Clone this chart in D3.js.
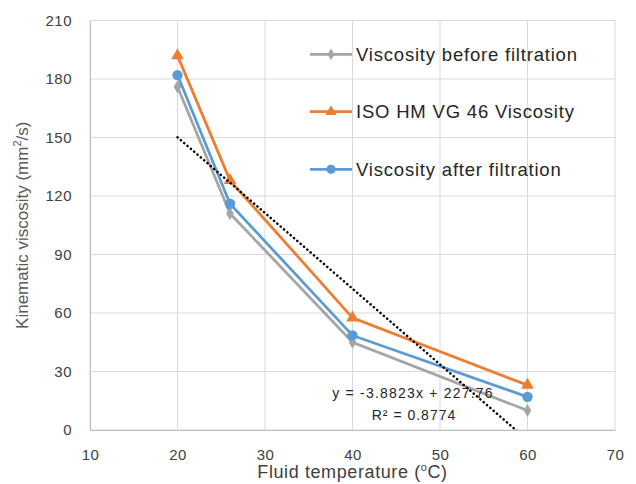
<!DOCTYPE html>
<html>
<head>
<meta charset="utf-8">
<script src="https://cdn.jsdelivr.net/npm/d3@7"></script>
<style>
  body { margin: 0; background: #fff; }
  text { font-family: "Liberation Sans", Arial, sans-serif; }
</style>
</head>
<body>
<div id="chart"></div>
<script>
// datos
const temperatures = [20, 26, 40, 60];
const viscosityBefore = [176, 111, 45, 10];
const isoViscosity = [192, 128, 57.5, 23];
const viscosityAfter = [182, 116, 48.5, 17];
const xTicks = [10, 20, 30, 40, 50, 60, 70];
const yTicks = [0, 30, 60, 90, 120, 150, 180, 210];
const trendSlope = -3.8823;
const trendIntercept = 227.76;
const trendR2 = 0.8774;
const trendRange = [20, 60];
const seriesNames = ["Viscosity before filtration", "ISO HM VG 46 Viscosity", "Viscosity after filtration"];

const width = 636;
const height = 484;
const margin = { top: 20.5, right: 21, bottom: 54, left: 90 };

const svg = d3.select("#chart").append("svg")
    .attr("width", width)
    .attr("height", height);

const x = d3.scaleLinear().domain([10, 70]).range([margin.left, width - margin.right]);
const y = d3.scaleLinear().domain([0, 210]).range([height - margin.bottom, margin.top]);

// rejilla
const grid = svg.append("g").attr("id", "grid");
grid.selectAll("line.h").data(yTicks).enter().append("line")
    .attr("x1", x(10)).attr("x2", x(70))
    .attr("y1", d => y(d)).attr("y2", d => y(d))
    .attr("stroke", "#d9d9d9").attr("stroke-width", 1);
grid.selectAll("line.v").data(xTicks).enter().append("line")
    .attr("y1", y(0)).attr("y2", y(210))
    .attr("x1", d => x(d)).attr("x2", d => x(d))
    .attr("stroke", "#d9d9d9").attr("stroke-width", 1);

// ejes
const xAxis = d3.axisBottom(x).tickValues(xTicks).tickSize(0).tickPadding(19);
const yAxis = d3.axisLeft(y).tickValues(yTicks).tickSize(0).tickPadding(18);
const xAxisGroup = svg.append("g").attr("transform", `translate(0, ${y(0)})`).call(xAxis);
const yAxisGroup = svg.append("g").attr("transform", `translate(${x(10)}, 0)`).call(yAxis);
[xAxisGroup, yAxisGroup].forEach(g => {
    g.select(".domain").attr("stroke", "#bfbfbf");
    g.selectAll("text").attr("font-size", 15).attr("fill", "#404040")
        .attr("letter-spacing", 0.5)
        .attr("font-family", "'Liberation Sans', Arial, sans-serif");
});

// titulos
const xTitle = svg.append("text")
    .attr("x", (x(10) + x(70)) / 2).attr("y", 478)
    .attr("text-anchor", "middle").attr("font-size", 18)
    .attr("letter-spacing", 0.6).attr("fill", "#404040");
xTitle.append("tspan").text("Fluid temperature (");
xTitle.append("tspan").attr("font-size", 11).attr("dy", -7).text("o");
xTitle.append("tspan").attr("dy", 7).text("C)");

const yTitle = svg.append("text")
    .attr("transform", `translate(28, ${(y(0) + y(210)) / 2}) rotate(-90)`)
    .attr("text-anchor", "middle").attr("font-size", 17).attr("fill", "#595959");
yTitle.append("tspan").text("Kinematic viscosity (mm");
yTitle.append("tspan").attr("font-size", 11).attr("dy", -7).text("2");
yTitle.append("tspan").attr("dy", 7).text("/s)");

// series
const series = [
    { name: seriesNames[0], values: viscosityBefore, color: "#a5a5a5", symbol: d3.symbolDiamond, size: 50 },
    { name: seriesNames[1], values: isoViscosity, color: "#ed7d31", symbol: d3.symbolTriangle, size: 70 },
    { name: seriesNames[2], values: viscosityAfter, color: "#5b9bd5", symbol: d3.symbolCircle, size: 85 }
];

const line = d3.line().x(d => x(d[0])).y(d => y(d[1]));
const plot = svg.append("g").attr("id", "plot");

series.forEach(s => {
    const pts = temperatures.map((t, i) => [t, s.values[i]]);
    plot.append("path").datum(pts)
        .attr("d", line)
        .attr("fill", "none")
        .attr("stroke", s.color)
        .attr("stroke-width", 2.75);
    plot.selectAll(null).data(pts).enter().append("path")
        .attr("d", d3.symbol().type(s.symbol).size(s.size))
        .attr("transform", d => `translate(${x(d[0])}, ${y(d[1])})`)
        .attr("fill", s.color);
});

// linea de tendencia (recortada al area del grafico)
svg.append("clipPath").attr("id", "clip").append("rect")
    .attr("x", x(10)).attr("y", y(210))
    .attr("width", x(70) - x(10)).attr("height", y(0) - y(210));
const trendPts = trendRange.map(t => [t, trendSlope * t + trendIntercept]);
svg.append("path").datum(trendPts)
    .attr("clip-path", "url(#clip)")
    .attr("d", line)
    .attr("fill", "none")
    .attr("stroke", "#000")
    .attr("stroke-width", 2.5)
    .attr("stroke-dasharray", "0.1 4.3")
    .attr("stroke-linecap", "round");

// ecuacion
svg.append("text").attr("x", 413).attr("y", 397.5)
    .attr("text-anchor", "middle").attr("font-size", 14)
    .attr("letter-spacing", 1.2).attr("fill", "#262626")
    .text(`y = ${trendSlope}x + ${trendIntercept}`);
svg.append("text").attr("x", 414).attr("y", 420)
    .attr("text-anchor", "middle").attr("font-size", 14)
    .attr("letter-spacing", 1).attr("fill", "#262626")
    .text(`R² = ${trendR2}`);

// leyenda
const legend = svg.append("g").attr("id", "legend");
const legendY = [54.3, 111.7, 169.3];
series.forEach((s, i) => {
    const g = legend.append("g").attr("transform", `translate(310, ${legendY[i]})`);
    g.append("line").attr("x1", 0).attr("x2", 42).attr("y1", 0).attr("y2", 0)
        .attr("stroke", s.color).attr("stroke-width", 2.75);
    g.append("path").attr("d", d3.symbol().type(s.symbol).size(s.size * 0.8))
        .attr("transform", "translate(21, 0)").attr("fill", s.color);
    g.append("text").attr("x", 46).attr("y", 6.5)
        .attr("font-size", 18.5).attr("letter-spacing", 0.8)
        .attr("fill", "#262626").text(s.name);
});
</script>
</body>
</html>
